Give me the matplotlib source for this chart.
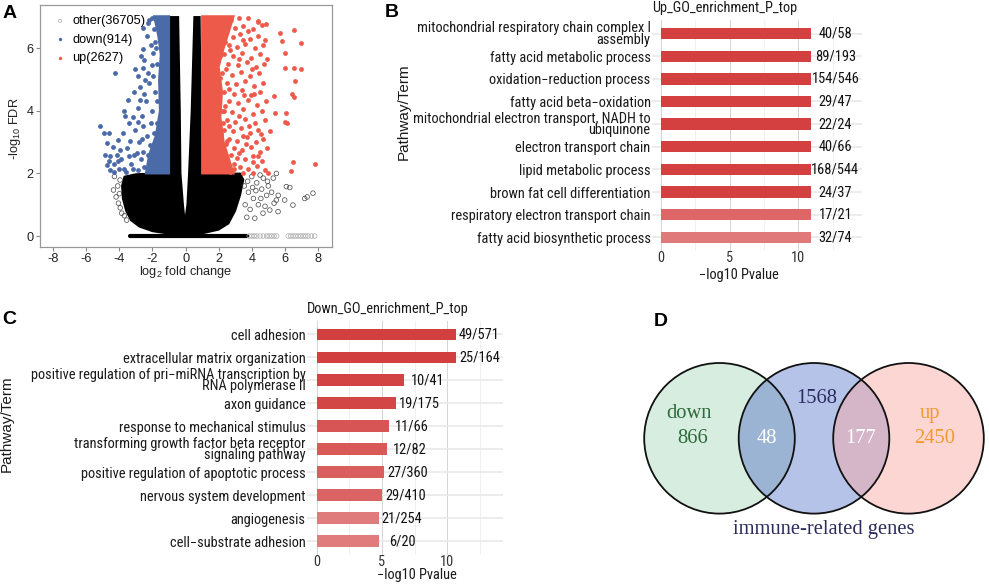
import matplotlib
matplotlib.use('Agg')
import matplotlib.pyplot as plt
from matplotlib import font_manager
from matplotlib.patches import Circle

# ---------------- data ----------------
# A: volcano plot (the dense cores drawn as areas)
cloud_x = [-1.05, -1.0, -1.0, -2.0, -3.0, -3.7, -3.85, -3.8, -3.6, -3.3, -2.8, -2.0, -1.0, 0.0,
           1.0, 2.0, 2.6, 3.0, 3.3, 3.5, 3.3, 2.0, 0.95, 0.9, 0.86, 0.52, 0.36, 0.2, 0.1, -0.04,
           -0.15, -0.3, -0.34, -0.44]
cloud_y = [7.0, 5.0, 2.0, 2.0, 1.98, 1.9, 1.6, 1.2, 0.8, 0.5, 0.3, 0.15, 0.07, 0.04,
           0.08, 0.2, 0.4, 0.8, 1.3, 1.8, 2.0, 2.0, 2.0, 5.0, 7.0, 7.0, 4.0, 2.0, 1.0, 0.45,
           1.0, 2.0, 4.0, 7.0]
zero_x = [-3.36, 3.72]

other_x = [-4.36, -4.06, -3.86, -3.56, -3.96, -4.2, -4.1, -3.95, -3.7, -4.3, -4.0,
           5.49, 5.3, 6.09, 7.7, 7.2, 7.35, 6.49, 5.99, 5.49, 5.09, 5.59, 4.68, 4.18, 3.7,
           4.0, 4.3, 4.6, 4.9, 3.8, 4.1, 4.4, 4.7, 5.0, 3.6, 3.9, 4.5, 5.2, 4.8, 3.55, 4.25,
           4.55, 3.75, 4.05, 5.6, 5.35, 4.95, 6.3]
other_y = [1.47, 1.05, 0.73, 0.51, 1.79, 1.25, 1.6, 0.9, 0.65, 1.9, 1.35,
           2.0, 1.85, 1.58, 1.37, 1.2, 1.25, 0.99, 1.15, 1.15, 0.83, 0.78, 0.73, 0.57, 0.6,
           1.9, 1.7, 1.5, 1.3, 1.4, 1.2, 1.0, 1.85, 1.6, 1.0, 0.85, 1.95, 1.4, 0.95, 1.6, 1.45,
           1.2, 1.75, 1.55, 1.3, 1.05, 1.75, 1.55]
other_zero_x = [3.85, 4.0, 4.15, 4.3, 4.5, 4.7, 4.9, 5.05, 5.2, 5.35, 5.5, 6.2, 6.35, 6.5,
                6.65, 6.8, 6.95, 7.1, 7.25, 7.4, 7.6, 7.8]

up_core_x = [1.0, 2.9, 2.6, 2.3, 2.1, 2.2, 2.0, 2.3, 2.6, 2.9, 1.0]
up_core_y = [2.0, 2.0, 2.5, 3.0, 3.8, 4.6, 5.4, 6.0, 6.5, 7.02, 7.02]
up_x = [2.35, 2.75, 3.2, 3.78, 4.35, 4.88, 2.5, 3.0, 3.45, 4.1, 4.6, 5.69, 6.53,
        2.2, 2.85, 3.3, 3.9, 4.4, 4.8, 5.85, 7.0, 2.6, 3.1, 3.6, 4.2, 4.7, 6.03,
        2.3, 2.85, 3.4, 3.95, 4.5, 4.9, 2.55, 3.15, 3.7, 4.25, 4.75, 6.03, 6.53, 6.95,
        2.2, 2.8, 3.35, 3.9, 4.45, 2.5, 3.05, 3.6, 4.15, 4.65, 6.59,
        2.3, 2.9, 3.4, 3.95, 4.5, 5.35, 6.43, 6.53, 2.6, 3.15, 3.75, 4.3, 4.85,
        2.2, 2.8, 3.45, 4.05, 4.6, 5.43, 6.09, 2.5, 3.0, 3.6, 4.2, 4.8, 5.99, 6.15,
        2.3, 2.85, 3.35, 3.9, 4.4, 5.1, 2.6, 3.1, 3.7, 4.25, 4.7,
        2.9, 3.4, 3.95, 4.5, 4.95, 3.1, 3.6, 4.1, 4.6, 6.49, 7.8,
        3.3, 3.8, 4.3, 4.8, 6.39, 2.7, 3.5, 4.05, 4.98,
        2.15, 2.4, 2.7, 2.45, 2.65, 2.4, 2.65, 2.45, 2.95, 3.2, 3.45, 3.25, 3.55, 3.2,
        3.5, 3.75, 4.0, 4.15, 3.85, 4.1, 3.65, 4.4, 4.55, 4.35,
        2.05, 2.1, 2.0, 2.25, 2.15, 2.05, 2.3, 2.5, 2.75, 2.6, 2.95]
up_y = [6.97, 6.9, 6.95, 6.97, 6.88, 6.76, 6.72, 6.65, 6.7, 6.6, 6.75, 6.49, 6.57,
        6.42, 6.35, 6.45, 6.3, 6.4, 6.25, 6.22, 6.17, 6.1, 6.05, 6.15, 6.0, 6.1, 5.85,
        5.8, 5.75, 5.85, 5.7, 5.8, 5.65, 5.5, 5.45, 5.55, 5.4, 5.5, 5.37, 5.37, 5.34,
        5.2, 5.15, 5.25, 5.1, 5.2, 4.9, 4.85, 4.95, 4.8, 4.9, 4.94,
        4.6, 4.55, 4.65, 4.5, 4.6, 4.46, 4.54, 4.44, 4.3, 4.25, 4.35, 4.2, 4.3,
        4.0, 3.95, 4.05, 3.9, 4.0, 3.93, 3.93, 3.7, 3.65, 3.75, 3.6, 3.7, 3.64, 3.62,
        3.4, 3.35, 3.45, 3.3, 3.4, 3.35, 3.1, 3.05, 3.15, 3.0, 3.1,
        2.8, 2.75, 2.85, 2.7, 2.8, 2.5, 2.45, 2.55, 2.4, 2.35, 2.29,
        2.2, 2.15, 2.25, 2.1, 2.09, 2.05, 2.02, 2.0, 2.0,
        6.7, 6.2, 5.95, 5.35, 4.7, 4.15, 3.5, 2.95, 2.3, 2.65, 3.2, 3.85, 4.5, 5.65,
        6.25, 6.55, 5.35, 4.55, 3.5, 2.35, 2.95, 6.85, 3.25, 2.55,
        5.75, 5.05, 4.35, 3.6, 3.25, 2.75, 4.0, 3.05, 2.6, 2.25, 2.15]

down_core_x = [-1.0, -1.0, -2.4, -2.2, -1.8, -1.55, -1.6, -1.5, -1.65, -1.9]
down_core_y = [7.02, 2.0, 2.0, 2.6, 3.2, 4.0, 5.0, 5.8, 6.4, 7.02]
down_x = [-5.17, -4.96, -4.26, -3.06, -2.55, -2.51, -2.25, -1.95, -2.55, -3.46, -3.66, -4.06,
          -4.76, -4.86, -4.76, -4.56, -4.55, -4.35, -4.15, -4.4, -3.9, -3.75, -3.55, -3.3,
          -3.1, -2.9, -2.7, -3.8, -3.35, -3.05, -2.8, -2.6, -2.35, -3.2, -2.9, -2.65, -2.4,
          -3.1, -2.75, -2.5, -2.2, -2.85, -2.3, -2.05, -2.1, -2.35, -1.9, -2.0, -1.85, -2.05,
          -2.1, -2.15, -1.95, -1.9, -1.85, -1.95, -3.6, -4.0, -4.6, -3.45, -4.3, -3.95, -3.2,
          -2.55, -4.65, -3.4, -2.9, -2.75, -3.75, -2.45, -2.7, -4.1, -2.6, -2.2,
          -1.7, -1.75, -1.7, -1.8, -1.65, -2.5, -2.65, -2.25, -2.95]
down_y = [3.52, 3.29, 5.21, 5.34, 5.37, 5.63, 6.81, 5.85, 5.96, 4.35, 3.82, 3.07,
          2.97, 2.59, 2.27, 2.11, 2.55, 2.3, 2.6, 2.85, 2.45, 2.15, 2.8, 2.3,
          2.6, 2.1, 2.45, 3.3, 3.05, 3.4, 3.0, 3.5, 3.2, 3.8, 4.1, 3.85, 4.3,
          4.6, 4.75, 4.55, 4.9, 5.1, 5.2, 5.45, 6.1, 6.4, 6.6, 6.95, 6.2, 4.0,
          3.6, 2.9, 2.4, 3.3, 4.6, 5.1, 2.05, 2.15, 2.4, 2.55, 2.05, 2.75, 2.15,
          2.7, 3.3, 3.6, 3.65, 4.35, 4.0, 5.0, 5.75, 2.4, 6.65, 6.9,
          3.6, 4.3, 5.5, 6.0, 6.75, 2.2, 3.1, 2.6, 2.65]

legend_labels = ['other(36705)', 'down(914)', 'up(2627)']

# B: up-regulated GO terms
up_terms = ['mitochondrial respiratory chain complex I\nassembly',
            'fatty acid metabolic process',
            'oxidation\u2212reduction process',
            'fatty acid beta\u2212oxidation',
            'mitochondrial electron transport, NADH to\nubiquinone',
            'electron transport chain',
            'lipid metabolic process',
            'brown fat cell differentiation',
            'respiratory electron transport chain',
            'fatty acid biosynthetic process']
up_values = [10.9, 10.9, 10.9, 10.9, 10.9, 10.9, 10.9, 10.9, 10.9, 10.9]
up_counts = ['40/58', '89/193', '154/546', '29/47', '22/24', '40/66', '168/544',
             '24/37', '17/21', '32/74']
up_colors = ['#d43f3f'] * 8 + ['#df6666', '#e07a7a']

# C: down-regulated GO terms
down_terms = ['cell adhesion',
              'extracellular matrix organization',
              'positive regulation of pri\u2212miRNA transcription by\nRNA polymerase II',
              'axon guidance',
              'response to mechanical stimulus',
              'transforming growth factor beta receptor\nsignaling pathway',
              'positive regulation of apoptotic process',
              'nervous system development',
              'angiogenesis',
              'cell\u2212substrate adhesion']
down_values = [10.64, 10.64, 6.68, 6.07, 5.51, 5.36, 5.15, 5.0, 4.74, 4.74]
down_counts = ['49/571', '25/164', '10/41', '19/175', '11/66', '12/82', '27/360',
               '29/410', '21/254', '6/20']
down_colors = ['#d13f3f', '#d13f3f', '#d24343', '#d34646', '#d85555', '#d95858',
               '#db5e5e', '#dc6363', '#e07b7b', '#e07c7c']

# D: venn counts
venn_down, venn_down_imm, venn_imm, venn_up_imm, venn_up = 866, 48, 1568, 177, 2450

# ---------------- figure ----------------
W, H = 989, 584

# look for a condensed sans for the GO panels, else plain Liberation Sans
NFAM, NSTRETCH, NSIZE = ['Liberation Sans', 'DejaVu Sans'], 'normal', 9.4
entries = font_manager.fontManager.ttflist
names = {f.name for f in entries}
for nm, sz in [('Liberation Sans Narrow', 11.0), ('Arial Narrow', 11.0),
               ('Roboto Condensed', 10.4), ('Open Sans Condensed', 10.4)]:
    if nm in names:
        NFAM, NSIZE = [nm, 'DejaVu Sans'], sz
        break
else:
    for nm, sz in [('Noto Sans', 10.2), ('Open Sans', 10.0), ('DejaVu Sans', 9.4)]:
        if any(f.name == nm and f.stretch == 'condensed' and f.style == 'normal'
               for f in entries):
            NFAM, NSTRETCH, NSIZE = [nm, 'DejaVu Sans'], 'condensed', sz
            break
NFONT = dict(family=NFAM, fontstretch=NSTRETCH, fontsize=NSIZE)

plt.rcParams['font.family'] = ['Liberation Sans', 'DejaVu Sans']
plt.rcParams['axes.unicode_minus'] = False
plt.rcParams['mathtext.fontset'] = 'custom'
plt.rcParams['mathtext.rm'] = 'Liberation Sans'
plt.rcParams['mathtext.it'] = 'Liberation Sans:italic'


def box(l, t, r, b):
    return [l / W, 1 - b / H, (r - l) / W, (b - t) / H]


def fxy(px, py):
    return px / W, 1 - py / H


fig = plt.figure(figsize=(W / 100, H / 100), dpi=100)

# ---- A ----
axA = fig.add_axes(box(40, 5, 332, 247))
axA.fill(cloud_x, cloud_y, color='black', lw=1.2, zorder=1)
axA.plot(zero_x, [0, 0], color='black', lw=3.0, solid_capstyle='round', zorder=1)
axA.scatter(other_x, other_y, s=11, facecolors='none', edgecolors='#444444',
            linewidths=0.5, zorder=2)
oth = axA.scatter(other_zero_x, [0] * len(other_zero_x), s=11, facecolors='none',
                  edgecolors='#aaaaaa', linewidths=0.5, zorder=2, label=legend_labels[0])
axA.fill(down_core_x, down_core_y, color='#4a6aa8', lw=1.5, zorder=3)
dn = axA.scatter(down_x, down_y, s=12, color='#4a6aa8', linewidths=0, zorder=3,
                 label=legend_labels[1])
axA.fill(up_core_x, up_core_y, color='#ee5a4a', lw=1.5, zorder=3)
up = axA.scatter(up_x, up_y, s=12, color='#ee5a4a', linewidths=0, zorder=3,
                 label=legend_labels[2])
axA.set_xlim(-8.8, 8.85)
axA.set_ylim(-0.35, 7.38)
axA.set_xticks(range(-8, 9, 2))
axA.set_yticks([0, 2, 4, 6])
axA.tick_params(length=3, width=0.8, color='#888888', labelsize=9.2, labelcolor='#222222',
                pad=1.5)
for s in axA.spines.values():
    s.set_color('#999999')
    s.set_linewidth(0.9)
leg = axA.legend(handles=[oth, dn, up], loc='upper left', bbox_to_anchor=(0.012, 0.995),
                 frameon=False, fontsize=9.2, handletextpad=0.35, labelspacing=0.5,
                 handlelength=1.2, borderpad=0.2, markerscale=0.7)
fig.text(*fxy(185.7, 271.7), 'log$_{2}$ fold change', ha='center', va='center',
         fontsize=9.2, color='#222222')
fig.text(*fxy(15, 128.3), '-log$_{10}$ FDR', ha='center', va='center', rotation=90,
         fontsize=9.2, color='#222222')


# ---- B and C ----
def go_panel(rect, terms, values, counts, colors, xlim):
    ax = fig.add_axes(rect)
    ypos = list(range(len(terms)))
    ax.barh(ypos, values, height=0.5, color=colors, zorder=3)
    for i, (v, c) in enumerate(zip(values, counts)):
        ax.text(v + 1.8, i, c, ha='center', va='center', color='#111111', zorder=4, **NFONT)
    ax.set_ylim(len(terms) - 0.4, -0.6)
    ax.set_xlim(*xlim)
    ax.set_yticks(ypos)
    ax.set_yticklabels(terms, color='#1a1a1a', linespacing=0.78, **NFONT)
    ax.set_xticks([0, 5, 10])
    ax.set_xticks([2.5, 7.5, 12.5], minor=True)
    ax.set_xticklabels(['0', '5', '10'], color='#333333', **NFONT)
    ax.grid(axis='y', color='#ebebeb', lw=1.3, zorder=0)
    ax.grid(axis='x', which='major', color='#d4d4d4', lw=0.7, zorder=0)
    ax.grid(axis='x', which='minor', color='#eeeeee', lw=0.6, zorder=0)
    ax.tick_params(which='both', length=0)
    ax.tick_params(axis='y', pad=1)
    ax.tick_params(axis='x', pad=0)
    for s in ax.spines.values():
        s.set_visible(False)
    return ax


go_panel(box(652, 20, 862, 250.9), up_terms, up_values, up_counts, up_colors,
         (-0.655, 14.64))
fig.text(*fxy(651.7, 8.3), 'Up_GO_enrichment_P_top', ha='left', va='center',
         color='#1a1a1a', **NFONT)
fig.text(*fxy(739, 275), '\u2212log10 Pvalue', ha='center', va='center',
         color='#1a1a1a', **NFONT)
fig.text(*fxy(404, 112), 'Pathway/Term', ha='center', va='center', rotation=90,
         fontsize=11.0, color='#1a1a1a')

go_panel(box(307, 320.5, 503.3, 554.8), down_terms, down_values, down_counts, down_colors,
         (-0.74, 14.28))
fig.text(*fxy(307.3, 309.3), 'Down_GO_enrichment_P_top', ha='left', va='center',
         color='#1a1a1a', **NFONT)
fig.text(*fxy(416.7, 575.5), '\u2212log10 Pvalue', ha='center', va='center',
         color='#1a1a1a', **NFONT)
fig.text(*fxy(6.7, 423.3), 'Pathway/Term', ha='center', va='center', rotation=90,
         fontsize=11.0, color='#1a1a1a')

# ---- D ----
axD = fig.add_axes(box(620, 300, 989, 584))
R = 75.3
axD.set_xlim(-99.5 / R, 269.5 / R)
axD.set_ylim(-145.7 / R, 138.3 / R)
axD.set_aspect('equal')
axD.axis('off')
gap = 1.255
centers = [(0, 0), (gap, 0), (2 * gap, 0)]
fills = ['#d6ede0', '#b6c3e9', '#fcd6d3']
for c, f in zip(centers, fills):
    axD.add_patch(Circle(c, 1, facecolor=f, edgecolor='none', zorder=1))
mid = Circle(centers[1], 1, facecolor='none', edgecolor='none')
axD.add_patch(mid)
lm = Circle(centers[0], 1, facecolor='#9cb4d4', edgecolor='none', zorder=2)
axD.add_patch(lm)
lm.set_clip_path(mid)
mr = Circle(centers[2], 1, facecolor='#d4b6c8', edgecolor='none', zorder=2)
axD.add_patch(mr)
mr.set_clip_path(mid)
for c in centers:
    axD.add_patch(Circle(c, 1, facecolor='none', edgecolor='#111111', lw=1.3, zorder=3))

serif = dict(family=['Liberation Serif', 'DejaVu Serif'], fontsize=14.8, ha='center',
             va='center', zorder=4)
axD.text(-0.40, 0.332, 'down', color='#2e6a3a', **serif)
axD.text(-0.36, 0.0, str(venn_down), color='#2e6a3a', **serif)
axD.text(0.627, 0.0, str(venn_down_imm), color='white', **serif)
axD.text(1.291, 0.531, str(venn_imm), color='#2b2c5e', **serif)
axD.text(1.88, 0.0, str(venn_up_imm), color='white', **serif)
axD.text(2.795, 0.332, 'up', color='#f29a2e', **serif)
axD.text(2.862, 0.0, str(venn_up), color='#f29a2e', **serif)
axD.text(1.388, -1.208, 'immune-related genes', color='#2b2c5e', **serif)

# panel letters
for (px, py), t in zip([(10, 13.5), (392, 12.5), (9, 320), (660.5, 321.5)], 'ABCD'):
    fig.text(*fxy(px, py), t, ha='center', va='center', fontsize=14, fontweight='bold')

fig.savefig('out.png', dpi=100)
